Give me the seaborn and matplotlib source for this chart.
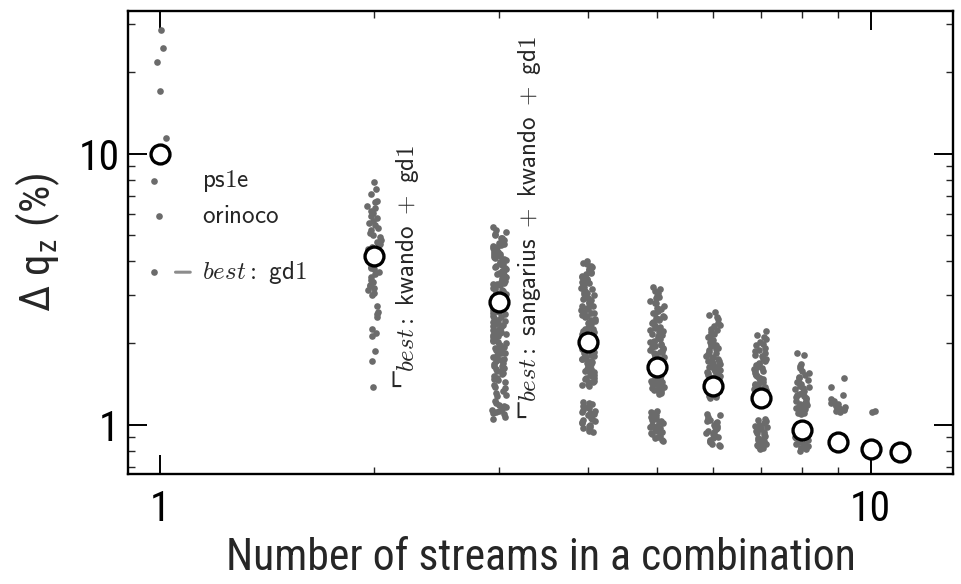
import numpy as np
import pandas as pd
import matplotlib
matplotlib.use("Agg")
import matplotlib.pyplot as plt
from matplotlib import font_manager
from matplotlib.font_manager import FontProperties
from matplotlib.ticker import LogLocator, NullFormatter, FixedLocator, FixedFormatter
import seaborn as sns

# ---------------------------------------------------------------------------
# Relative discharge error (%) of every combination of streams, grouped by
# how many streams are combined.
# ---------------------------------------------------------------------------
stream_counts = [1, 2, 3, 4, 5, 6, 7, 8, 9, 10, 11]

dq_1 = [28.6, 24.5, 21.8, 17.0, 11.4, 10.3, 10.0, 9.7, 7.92, 5.88, 3.65]
dq_2 = [7.85, 7.42, 7.12, 6.68, 6.60, 6.40, 6.28, 6.15, 6.02, 5.90, 5.80, 5.66,
        5.55, 5.43, 5.31, 5.22, 5.10, 5.00, 4.91, 4.80, 4.71, 4.62, 4.58, 4.52,
        4.44, 4.35, 4.27, 4.15, 4.06, 3.98, 3.90, 3.82, 3.78, 3.74, 3.66, 3.58,
        3.50, 3.42, 3.35, 3.28, 3.24, 3.20, 3.13, 3.06, 3.00, 2.74, 2.61, 2.55,
        2.50, 2.25, 2.18, 2.12, 1.87, 1.72, 1.375]
dq_3 = [5.36, 5.21, 5.12, 4.99, 4.90, 4.86, 4.74, 4.69, 4.60, 4.57, 4.49, 4.41,
        4.38, 4.30, 4.22, 4.19, 4.12, 4.04, 4.01, 3.93, 3.88, 3.84, 3.77, 3.71,
        3.68, 3.61, 3.55, 3.52, 3.46, 3.40, 3.37, 3.31, 3.27, 3.22, 3.16, 3.13,
        3.08, 3.03, 3.00, 2.95, 2.90, 2.88, 2.83, 2.78, 2.75, 2.70, 2.67, 2.62,
        2.58, 2.55, 2.50, 2.47, 2.44, 2.39, 2.36, 2.33, 2.29, 2.26, 2.22, 2.19,
        2.16, 2.12, 2.10, 2.06, 2.03, 2.00, 1.97, 1.94, 1.91, 1.88, 1.86, 1.83,
        1.80, 1.77, 1.75, 1.72, 1.69, 1.67, 1.64, 1.62, 1.59, 1.57, 1.54, 1.51,
        1.49, 1.46, 1.43, 1.40, 1.36, 1.33, 1.29, 1.27, 1.22, 1.20, 1.17, 1.16,
        1.14, 1.12, 1.11, 1.09, 1.07, 1.05,
        5.05, 4.80, 4.65, 4.53, 4.45, 4.34, 4.26, 4.16, 4.08, 3.97, 3.91, 3.80,
        3.74, 3.64, 3.58, 3.49, 3.43, 3.34, 3.29, 3.19, 3.10, 3.05, 2.97, 2.92,
        2.85, 2.80, 2.72, 2.64, 2.60, 2.52, 2.42, 2.37, 2.31, 2.24, 2.17, 2.14,
        2.08, 2.01, 1.95, 1.89, 1.84, 1.78, 1.73, 1.65, 1.60, 1.55, 1.47, 1.38,
        1.31, 1.18, 1.13, 1.10]
dq_4 = [4.01, 3.95, 3.84, 3.80, 3.71, 3.66, 3.58, 3.49, 3.43, 3.40, 3.33, 3.27,
        3.22, 3.16, 3.12, 3.06, 3.01, 2.97, 2.91, 2.87, 2.82, 2.78, 2.73, 2.69,
        2.65, 2.61, 2.57, 2.53, 2.49, 2.46, 2.42, 2.38, 2.35, 2.31, 2.28, 2.25,
        2.21, 2.18, 2.15, 2.12, 2.09, 2.06, 2.03, 2.00, 1.97, 1.94, 1.92, 1.89,
        1.86, 1.84, 1.81, 1.79, 1.76, 1.74, 1.71, 1.69, 1.67, 1.64, 1.62, 1.60,
        1.58, 1.56, 1.53, 1.51, 1.49, 1.47, 1.45, 1.43, 1.41, 1.39,
        1.21, 1.19, 1.17, 1.15, 1.13, 1.11, 1.10, 1.08, 1.06, 1.05, 1.03, 1.02,
        1.00, 0.99, 0.98, 0.96, 0.95, 0.94,
        3.90, 3.75, 3.62, 3.53, 3.45, 3.36, 3.30, 3.19, 3.09, 3.03, 2.94, 2.84,
        2.75, 2.67, 2.59, 2.51, 2.44, 2.40, 2.33, 2.26, 2.19, 2.13, 2.07, 2.01,
        1.95, 1.90, 1.85, 1.80, 1.75, 1.70, 1.65, 1.61, 1.57, 1.52, 1.48, 1.44,
        1.40, 1.20, 1.16, 1.12, 1.09, 1.04, 1.01, 0.97]
dq_5 = [3.22, 3.16, 3.07, 2.99, 2.93, 2.85, 2.80, 2.73, 2.68, 2.62, 2.57, 2.52,
        2.48, 2.43, 2.39, 2.35, 2.31, 2.27, 2.23, 2.20, 2.16, 2.13, 2.10, 2.07,
        2.04, 2.01, 1.98, 1.95, 1.93, 1.90, 1.88, 1.85, 1.83, 1.81, 1.78, 1.76,
        1.74, 1.72, 1.70, 1.68, 1.66, 1.64, 1.62, 1.61, 1.59, 1.57, 1.55, 1.54,
        1.52, 1.50, 1.49, 1.47, 1.46, 1.44, 1.43, 1.41, 1.40, 1.38, 1.37, 1.35,
        1.34, 1.32, 1.30,
        1.12, 1.10, 1.08, 1.07, 1.05, 1.04, 1.02, 1.01, 1.00, 0.98, 0.97, 0.96,
        0.95, 0.93, 0.92, 0.91, 0.90, 0.88, 0.87,
        3.11, 2.96, 2.82, 2.70, 2.59, 2.50, 2.45, 2.37, 2.29, 2.21, 2.14, 2.08,
        2.02, 1.96, 1.91, 1.86, 1.82, 1.77, 1.73, 1.69, 1.65, 1.60, 1.56, 1.53,
        1.48, 1.45, 1.42, 1.39, 1.36, 1.33, 1.31, 1.11, 1.06, 1.03, 0.99, 0.94,
        0.89]
dq_6 = [2.60, 2.53, 2.45, 2.38, 2.31, 2.26, 2.20, 2.15, 2.11, 2.06, 2.02, 1.98,
        1.95, 1.91, 1.88, 1.85, 1.82, 1.79, 1.76, 1.74, 1.71, 1.69, 1.66, 1.64,
        1.62, 1.60, 1.58, 1.56, 1.54, 1.52, 1.50, 1.49, 1.47, 1.45, 1.44, 1.42,
        1.41, 1.39, 1.38, 1.36, 1.35, 1.33, 1.32, 1.30, 1.29, 1.27, 1.25,
        1.09, 1.07, 1.05, 1.04, 1.02, 1.01, 0.99, 0.98, 0.97, 0.95, 0.94, 0.93,
        0.92, 0.90, 0.89, 0.88, 0.87, 0.85, 0.84, 0.83,
        2.49, 2.34, 2.23, 2.13, 2.04, 1.96, 1.90, 1.83, 1.77, 1.72, 1.67, 1.63,
        1.59, 1.55, 1.51, 1.48, 1.46, 1.43, 1.40, 1.37, 1.34, 1.31, 1.28, 1.26,
        1.08, 1.03, 1.00, 0.96, 0.91, 0.86]
dq_7 = [2.21, 2.14, 2.07, 2.01, 1.96, 1.91, 1.87, 1.83, 1.79, 1.75, 1.72, 1.69,
        1.66, 1.63, 1.60, 1.58, 1.55, 1.53, 1.51, 1.49, 1.47, 1.45, 1.43, 1.41,
        1.39, 1.38, 1.36, 1.35, 1.33, 1.32, 1.30, 1.29, 1.27, 1.26, 1.24, 1.23,
        1.21,
        1.05, 1.03, 1.01, 1.00, 0.98, 0.97, 0.95, 0.94, 0.93, 0.91, 0.90, 0.89,
        0.88, 0.87, 0.86, 0.85, 0.84, 0.83, 0.82, 0.81,
        2.10, 1.98, 1.89, 1.81, 1.74, 1.67, 1.62, 1.57, 1.52, 1.48, 1.44, 1.40,
        1.37, 1.34, 1.31, 1.28, 1.25, 1.22, 1.04, 0.99, 0.96, 0.92, 0.88, 0.85,
        0.82]
dq_8 = [1.84, 1.81, 1.67, 1.62, 1.58, 1.55, 1.52, 1.49, 1.46, 1.44, 1.41, 1.39,
        1.37, 1.35, 1.33, 1.31, 1.29, 1.27, 1.25, 1.24, 1.22, 1.21, 1.19, 1.18,
        1.16, 1.15, 1.14, 1.12, 1.11, 1.10, 1.09,
        0.90, 0.88, 0.87, 0.86, 0.85, 0.84, 0.83, 0.82, 0.81, 0.80,
        1.64, 1.50, 1.42, 1.36, 1.30, 1.26, 1.20, 1.17, 1.13, 1.10, 0.89, 0.85,
        0.82]
dq_9 = [1.49, 1.375, 1.285, 1.24, 1.22, 1.20, 1.19, 1.18, 1.17, 1.16, 1.15, 1.14,
        1.13, 1.12, 1.11, 0.90, 0.89, 0.88, 0.87, 0.86, 0.86, 0.85, 0.84, 0.84,
        0.83]
dq_10 = [1.12, 1.11, 0.83, 0.82, 0.82, 0.81, 0.81, 0.80, 0.80, 0.79, 0.79]
dq_11 = [0.792]

# Typical error of each group (open circles)
medians = [10.0, 4.19, 2.83, 2.02, 1.63, 1.39, 1.25, 0.954, 0.862, 0.812, 0.792]

# Named single streams and best combinations
single_names = ["ps1e", "orinoco"]
single_values = [7.92, 5.88]
best_single = ("gd1", 3.65)
best_pair = ("kwando + gd1", 1.375)
best_triple = ("sangarius + kwando + gd1", 1.06)

tick_values = [1, 10]
tick_labels = ["1", "10"]


def first_font(*names):
    for name in names:
        try:
            font_manager.findfont(FontProperties(family=name), fallback_to_default=False)
            return name
        except ValueError:
            continue
    return "DejaVu Sans"


groups = [dq_1, dq_2, dq_3, dq_4, dq_5, dq_6, dq_7, dq_8, dq_9, dq_10, dq_11]
df = pd.DataFrame({
    "n": np.concatenate([[k] * len(g) for k, g in zip(stream_counts, groups)]),
    "dq": np.concatenate(groups),
})

sns.set_style("ticks")
label_font = first_font("Liberation Sans Narrow", "Roboto Condensed", "Liberation Sans")
plt.rcParams["font.family"] = ["DejaVu Sans"]
plt.rcParams["mathtext.fontset"] = "cm"

fig = plt.figure(figsize=(9.62, 5.84), dpi=100)
ax = fig.add_axes([0.1331, 0.1884, 0.8575, 0.7928])

np.random.seed(3)
sns.stripplot(data=df, x="n", y="dq", native_scale=True, log_scale=(True, True),
              jitter=0.24, size=4.8, color="#6b6b6b", linewidth=0, ax=ax,
              zorder=2)
sns.scatterplot(x=stream_counts, y=medians, ax=ax, s=185, color="white",
                edgecolor="black", linewidth=2.4, zorder=5, legend=False)

ax.set_xscale("log")
ax.set_yscale("log")
ax.set_xlim(0.901, 13.05)
ax.set_ylim(0.657, 33.6)

for axis in (ax.xaxis, ax.yaxis):
    axis.set_major_locator(FixedLocator(tick_values))
    axis.set_major_formatter(FixedFormatter(tick_labels))
    axis.set_minor_locator(LogLocator(base=10, subs=np.arange(2, 10)))
    axis.set_minor_formatter(NullFormatter())

ax.tick_params(which="major", direction="in", length=14, width=1.4,
               top=True, right=True, labelsize=30, colors="black")
ax.tick_params(which="minor", direction="in", length=5, width=1.0,
               top=True, right=True)
ax.tick_params(axis="x", which="major", pad=11)
ax.tick_params(axis="y", which="major", pad=6)
for lab in ax.get_xticklabels() + ax.get_yticklabels():
    lab.set_family(label_font)
for sp in ax.spines.values():
    sp.set_linewidth(1.7)
    sp.set_color("black")

ax.set_xlabel("Number of streams in a combination", family=label_font,
              fontsize=31.5, labelpad=5)
ax.set_ylabel("Δ q$_\\mathregular{z}$ (%)", family=label_font,
              fontsize=31, labelpad=12)

# Labels of the single streams
for name, val in zip(single_names, single_values):
    ax.annotate(r"$\mathsf{%s}$" % name, xy=(stream_counts[0], val),
                xytext=(30, 0), textcoords="offset points",
                ha="left", va="center", fontsize=18)
ax.annotate(r"$best{:}$ $\mathsf{%s}$" % best_single[0],
            xy=(stream_counts[0], best_single[1]),
            xytext=(30, 0), textcoords="offset points",
            ha="left", va="center", fontsize=18,
            arrowprops=dict(arrowstyle="-", color="0.55", lw=2.2,
                            shrinkA=6, shrinkB=11))

# Best combinations of two and three streams: a corner mark at the best
# value, with the vertical label rising from it
for k, (name, val), dx in [(2, best_pair, 24), (3, best_triple, 22)]:
    ax.annotate("└", xy=(k, val), xytext=(13.5, -5.8),
                textcoords="offset points", ha="center", va="baseline",
                fontsize=18, family="DejaVu Sans")
    txt = name.replace(" ", r"\ ")
    ax.annotate(r"$best{:}$ $\mathsf{%s}$" % txt,
                xy=(k, val), xytext=(dx, 11), textcoords="offset points",
                rotation=90, ha="center", va="bottom", fontsize=18)

fig.savefig("out.png", dpi=100)
